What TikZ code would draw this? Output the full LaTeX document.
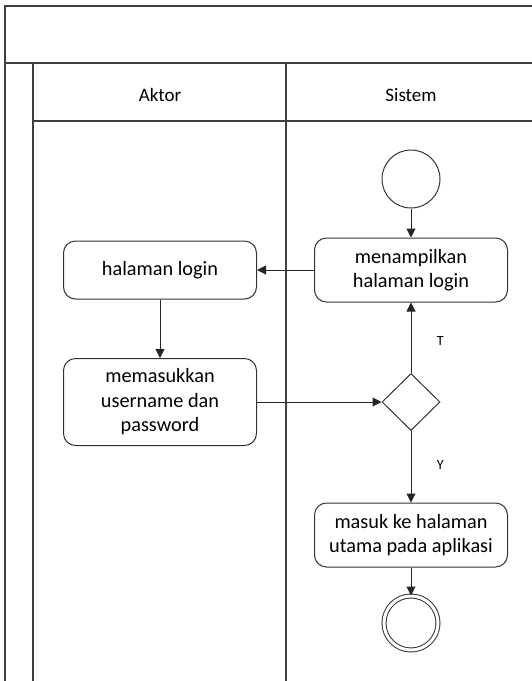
\documentclass[tikz,border=0pt]{standalone}
\usepackage{fontspec}
\setmainfont{Carlito}
\usetikzlibrary{arrows.meta}
\usetikzlibrary{shapes.geometric}

\begin{document}
\begin{tikzpicture}[x=1pt, y=-1pt,
        lane/.style={draw=black!75, line width=1.4pt},
        act/.style={draw=black!80, line width=1pt, rounded corners=12pt,
                    minimum width=193pt, align=center,
                    font=\fontsize{20.3}{24.5}\selectfont},
        startnode/.style={circle, draw=black!80, line width=1pt, minimum size=58pt, inner sep=0pt},
        endnode/.style={circle, draw=black!80, line width=1pt, double, double distance=3pt,
                        minimum size=54pt, inner sep=0pt},
        choice/.style={diamond, draw=black!80, line width=1pt, minimum width=58pt,
                       minimum height=57pt, inner sep=0pt},
        flow/.style={-{Triangle[length=9pt,width=9pt]}, line width=1pt, draw=black!85},
        guard/.style={font=\fontsize{14}{16}\selectfont}]
        \useasboundingbox (0,0) rectangle (532,681);
        % swimlane frame
        \draw[lane] (532,6) -- (5,6) -- (5,681);
        \draw[lane] (5,63) -- (532,63);
        \draw[lane] (33,63) -- (33,681);
        \draw[lane] (286,63) -- (286,681);
        \draw[lane] (33,121) -- (532,121);
        \node[font=\fontsize{19}{24}\selectfont] (aktor) at (160,95) {Aktor};
        \node[font=\fontsize{19}{24}\selectfont] (sistem) at (411,95) {Sistem};

        % activities
        \node[startnode] (start) at (411,179) {};
        \node[act, minimum height=64pt] (tampil) at (411,270) {menampilkan\\halaman login};
        \node[act, minimum height=58pt] (login) at (160,270) {halaman login};
        \node[act, minimum height=87pt] (input) at (160,402) {memasukkan\\username dan\\password};
        \node[choice] (cek) at (411,402) {};
        \node[act, minimum height=64pt] (utama) at (411,535) {masuk ke halaman\\utama pada aplikasi};
        \node[endnode] (stop) at (411,623) {};

        \draw[flow] (start) -- (tampil);
        \draw[flow] (tampil) -- (login);
        \draw[flow] (login) -- (input);
        \draw[flow] (input) -- (cek);
        \draw[flow] (cek) -- node[guard, pos=0.45, right=22pt] {T} (tampil);
        \draw[flow] (cek) -- node[guard, pos=0.48, right=22pt] {Y} (utama);
        \draw[flow] (utama) -- (stop);
\end{tikzpicture}
\end{document}
